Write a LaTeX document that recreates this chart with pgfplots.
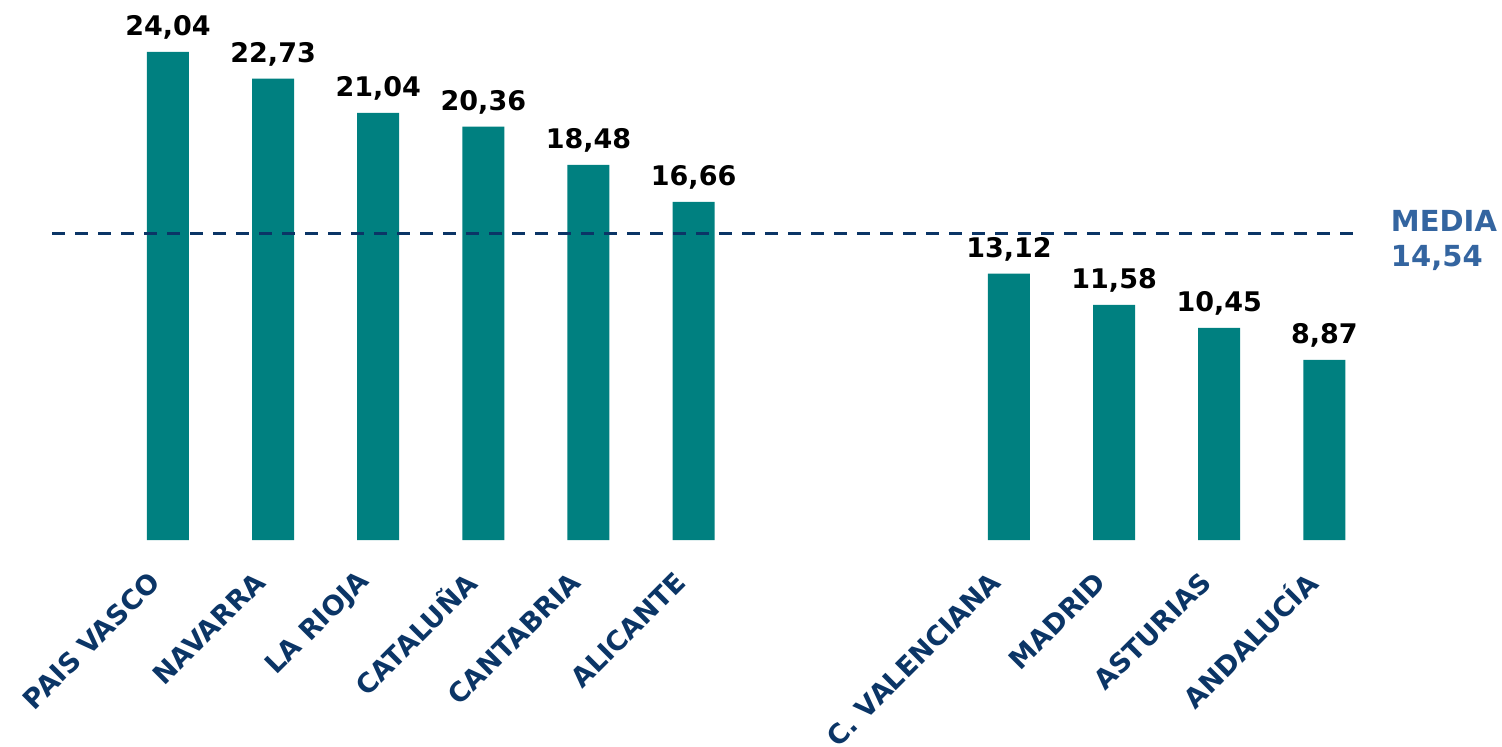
\documentclass[border=0pt]{standalone}
\usepackage{pgfplots}
\pgfplotsset{compat=1.18}
\usepackage{fontspec}
\setmainfont{DejaVu Sans}

\definecolor{barteal}{HTML}{008080}
\definecolor{labnavy}{HTML}{0B3566}
\definecolor{linenavy}{HTML}{0B3566}
\definecolor{mediablue}{HTML}{3465A0}

\begin{document}
\begin{tikzpicture}
	\begin{axis}[
			scale only axis,
			width=751pt,
			height=270pt,
			xmin=-1.598, xmax=12.69,
			ymin=0, ymax=26.6,
			axis line style={draw=none},
			major tick length=0pt,
			ytick=\empty,
			xtick={0,1,2,3,4,5,8,9,10,11},
			xticklabels={PAIS VASCO,NAVARRA,LA RIOJA,CATALUÑA,CANTABRIA,ALICANTE,C. VALENCIANA,MADRID,ASTURIAS,ANDALUCÍA},
			x tick label style={xshift=-6.5pt, yshift=-18.5pt, rotate=45, anchor=east, inner sep=0pt,
				font=\fontsize{13.5}{16}\selectfont\bfseries, text=labnavy},
			clip=false,
			/pgf/number format/assume math mode=true,
		]
		\addplot[ybar, bar width=21pt, fill=barteal, draw=none,
			nodes near coords={\pgfmathprintnumber[fixed,fixed zerofill,precision=2,use comma]{\pgfplotspointmeta}},
			nodes near coords style={anchor=south, inner sep=0pt, yshift=6pt,
				font=\fontsize{13.5}{16}\selectfont\bfseries, text=black}]
			coordinates {(0,24.04) (1,22.73) (2,21.04) (3,20.36) (4,18.48) (5,16.66)
				(8,13.12) (9,11.58) (10,10.45) (11,8.87)};
		% media line (drawn where the reference shows it)
		\addplot[linenavy, line width=1.5pt, dash pattern=on 6.5pt off 5pt]
			coordinates {(-1.10,15.12) (11.36,15.12)};
		\node[anchor=west, align=left, inner sep=0pt, text=mediablue,
			font=\fontsize{14.5}{17.5}\selectfont\bfseries] at (axis cs:11.63,14.75) {MEDIA\\14,54};
		\coordinate (bl) at (rel axis cs:0,0);
	\end{axis}
	\pgfresetboundingbox
	\path[use as bounding box] (bl) ++(0,-103pt) rectangle ++(751pt,373pt);
\end{tikzpicture}
\end{document}
